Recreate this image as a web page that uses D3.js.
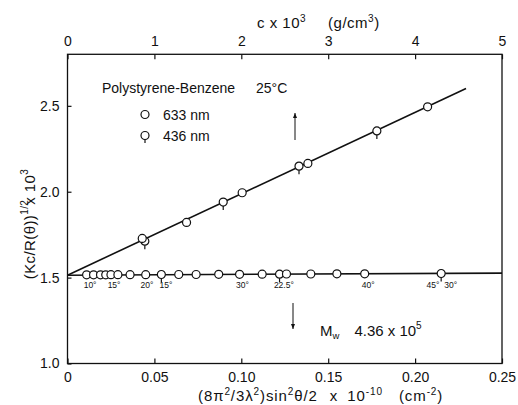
<!DOCTYPE html>
<html><head><meta charset="utf-8">
<script src="https://cdn.jsdelivr.net/npm/d3@7"></script>
<style>
body{margin:0;background:#fff;}
svg{display:block;font-family:"Liberation Sans",Arial,sans-serif;}
</style></head>
<body><svg id="c" width="518" height="405"></svg>
<script>
// ---- data ----
const xTicks = [0, 0.05, 0.10, 0.15, 0.20, 0.25];
const xTickLabels = ["0", "0.05", "0.10", "0.15", "0.20", "0.25"];
const yTicks = [1.0, 1.5, 2.0, 2.5];
const yTickLabels = ["1.0", "1.5", "2.0", "2.5"];
const cTicks = [0, 1, 2, 3, 4, 5];
const cTickLabels = ["0", "1", "2", "3", "4", "5"];

// angular extrapolation (c -> 0), 633 nm
const angX633 = [0.011, 0.015, 0.019, 0.022, 0.025, 0.029, 0.036, 0.045, 0.064, 0.074, 0.087, 0.099, 0.112, 0.126, 0.140, 0.155, 0.171];
const angY633 = [1.516, 1.516, 1.516, 1.516, 1.517, 1.517, 1.517, 1.517, 1.518, 1.518, 1.519, 1.519, 1.520, 1.521, 1.521, 1.522, 1.522];
// angular extrapolation, 436 nm
const angX436 = [0.054, 0.122, 0.215];
const angY436 = [1.518, 1.520, 1.524];
// concentration extrapolation (theta -> 0)
const concX633 = [0.043, 0.0685, 0.1005, 0.1383, 0.2072];
const concY633 = [1.728, 1.821, 1.994, 2.165, 2.494];
const concX436 = [0.0445, 0.0896, 0.1332, 0.178];
const concY436 = [1.712, 1.940, 2.149, 2.354];
// fitted lines
const lineConcX = [0, 0.2293];
const lineConcY = [1.514, 2.601];
const lineAngX = [0, 0.25];
const lineAngY = [1.514, 1.526];
// angle labels
const angleLabels = ["10°", "15°", "20°", "15°", "30°", "22.5°", "40°", "45°", "30°"];
const angleLabelX = [0.013, 0.0268, 0.0457, 0.0567, 0.1007, 0.1245, 0.173, 0.2103, 0.2205];

// ---- drawing ----
const svg = d3.select("#c");
const L = 67.5, R = 502, T = 54.3, B = 363.5;
const x = d3.scaleLinear().domain([0, 0.25]).range([L, R]);
const xc = d3.scaleLinear().domain([0, 5]).range([L, R]);
const y = d3.scaleLinear().domain([1.0, 2.8]).range([B, T]);
const ink = "#111";

// frame
svg.append("rect").attr("x", L).attr("y", T).attr("width", R - L).attr("height", B - T)
  .attr("fill", "none").attr("stroke", ink).attr("stroke-width", 1.3);

function styleAxis(g) {
  g.select(".domain").remove();
  g.selectAll(".tick line").attr("stroke", ink).attr("stroke-width", 1.2);
  g.selectAll(".tick text").attr("fill", ink).attr("font-size", 14)
    .attr("font-family", "'Liberation Sans',Arial,sans-serif");
}
// bottom axis
svg.append("g").attr("transform", `translate(0,${B})`)
  .call(d3.axisBottom(x).tickValues(xTicks).tickFormat((d, i) => xTickLabels[i]).tickSize(-5).tickPadding(9))
  .call(styleAxis);
// top axis
svg.append("g").attr("transform", `translate(0,${T})`)
  .call(d3.axisTop(xc).tickValues(cTicks).tickFormat((d, i) => cTickLabels[i]).tickSize(-5).tickPadding(8))
  .call(styleAxis);
// left axis
svg.append("g").attr("transform", `translate(${L},0)`)
  .call(d3.axisLeft(y).tickValues(yTicks).tickFormat((d, i) => yTickLabels[i]).tickSize(-4).tickPadding(8))
  .call(styleAxis);

// lines
const line = d3.line().x(d => x(d[0])).y(d => y(d[1]));
svg.append("path").datum(d3.zip(lineConcX, lineConcY)).attr("d", line)
  .attr("stroke", ink).attr("stroke-width", 1.6).attr("fill", "none");
svg.append("path").datum(d3.zip(lineAngX, lineAngY)).attr("d", line)
  .attr("stroke", ink).attr("stroke-width", 1.6).attr("fill", "none");

// markers
function circles(xs, ys) {
  svg.append("g").selectAll("circle").data(d3.zip(xs, ys)).join("circle")
    .attr("cx", d => x(d[0])).attr("cy", d => y(d[1])).attr("r", 4)
    .attr("fill", "#fff").attr("stroke", ink).attr("stroke-width", 1.2);
}
function qmarks(xs, ys) {
  const g = svg.append("g").selectAll("g").data(d3.zip(xs, ys)).join("g")
    .attr("transform", d => `translate(${x(d[0])},${y(d[1])})`);
  g.append("line").attr("x1", 0).attr("x2", 0).attr("y1", 3).attr("y2", 8)
    .attr("stroke", ink).attr("stroke-width", 1.2);
  g.append("circle").attr("r", 4).attr("fill", "#fff").attr("stroke", ink).attr("stroke-width", 1.2);
}
qmarks(angX436, angY436);
circles(angX633, angY633);
qmarks(concX436, concY436);
circles(concX633, concY633);

// angle labels
svg.append("g").selectAll("text").data(d3.zip(angleLabelX, angleLabels)).join("text")
  .attr("x", d => x(d[0])).attr("y", 288).attr("text-anchor", "middle")
  .attr("font-size", 8.5).attr("fill", ink).text(d => d[1]);

// legend & annotations
svg.append("text").attr("x", 102).attr("y", 93).attr("font-size", 14).attr("fill", ink).text("Polystyrene-Benzene");
svg.append("text").attr("x", 256).attr("y", 93).attr("font-size", 14).attr("fill", ink).text("25°C");
svg.append("circle").attr("cx", 145).attr("cy", 114.5).attr("r", 4).attr("fill", "#fff").attr("stroke", ink).attr("stroke-width", 1.2);
svg.append("text").attr("x", 163).attr("y", 119.5).attr("font-size", 14).attr("fill", ink).text("633 nm");
svg.append("line").attr("x1", 145).attr("x2", 145).attr("y1", 139).attr("y2", 143).attr("stroke", ink).attr("stroke-width", 1.2);
svg.append("circle").attr("cx", 145).attr("cy", 135.5).attr("r", 4).attr("fill", "#fff").attr("stroke", ink).attr("stroke-width", 1.2);
svg.append("text").attr("x", 163).attr("y", 141).attr("font-size", 14).attr("fill", ink).text("436 nm");

// arrows
function arrow(x0, y0, y1) {
  svg.append("line").attr("x1", x0).attr("x2", x0).attr("y1", y0).attr("y2", y1).attr("stroke", ink).attr("stroke-width", 1);
  const d = y1 < y0 ? 1 : -1;
  svg.append("path").attr("d", `M${x0 - 2},${y1 + 5 * d}L${x0},${y1}L${x0 + 2},${y1 + 5 * d}Z`).attr("fill", ink);
}
arrow(295, 140, 113);
arrow(293, 303, 329);

// Mw
const mw = svg.append("text").attr("x", 320).attr("y", 336).attr("font-size", 15).attr("fill", ink);
mw.append("tspan").text("M");
mw.append("tspan").attr("font-size", 9.5).attr("dy", 3).text("w");
mw.append("tspan").attr("dy", -3).attr("dx", 15).text("4.36 x 10");
mw.append("tspan").attr("font-size", 10).attr("dy", -7).text("5");

// top axis title
const tt = svg.append("text").attr("x", 257).attr("y", 28).attr("font-size", 15).attr("fill", ink).attr("letter-spacing", 0.5);
tt.append("tspan").text("c x 10");
tt.append("tspan").attr("font-size", 10).attr("dy", -6).text("3");
tt.append("tspan").attr("dy", 6).attr("dx", 22).text("(g/cm");
tt.append("tspan").attr("font-size", 10).attr("dy", -6).text("3");
tt.append("tspan").attr("dy", 6).text(")");

// bottom axis title
const bt = svg.append("text").attr("x", 198).attr("y", 401)
  .attr("font-size", 15).attr("fill", ink).attr("letter-spacing", 0.9);
bt.append("tspan").text("(8π");
bt.append("tspan").attr("font-size", 10).attr("dy", -6).text("2");
bt.append("tspan").attr("dy", 6).text("/3λ");
bt.append("tspan").attr("font-size", 10).attr("dy", -6).text("2");
bt.append("tspan").attr("dy", 6).text(")sin");
bt.append("tspan").attr("font-size", 10).attr("dy", -6).text("2");
bt.append("tspan").attr("dy", 6).text("θ/2");
bt.append("tspan").attr("dx", 12).text("x");
bt.append("tspan").attr("dx", 9).text("10");
bt.append("tspan").attr("font-size", 10).attr("dy", -6).text("-10");
bt.append("tspan").attr("dy", 6).attr("dx", 16).text("(cm");
bt.append("tspan").attr("font-size", 10).attr("dy", -6).text("-2");
bt.append("tspan").attr("dy", 6).text(")");

// y axis title
const yt = svg.append("text").attr("transform", "translate(35,224) rotate(-90)")
  .attr("text-anchor", "middle").attr("font-size", 15).attr("fill", ink).attr("letter-spacing", 0.4);
yt.append("tspan").text("(Kc/R(θ))");
yt.append("tspan").attr("font-size", 10).attr("dy", -7).text("1/2");
yt.append("tspan").attr("dy", 7).attr("dx", -5).text("x 10");
yt.append("tspan").attr("font-size", 10).attr("dy", -7).text("3");
</script>
</body></html>
